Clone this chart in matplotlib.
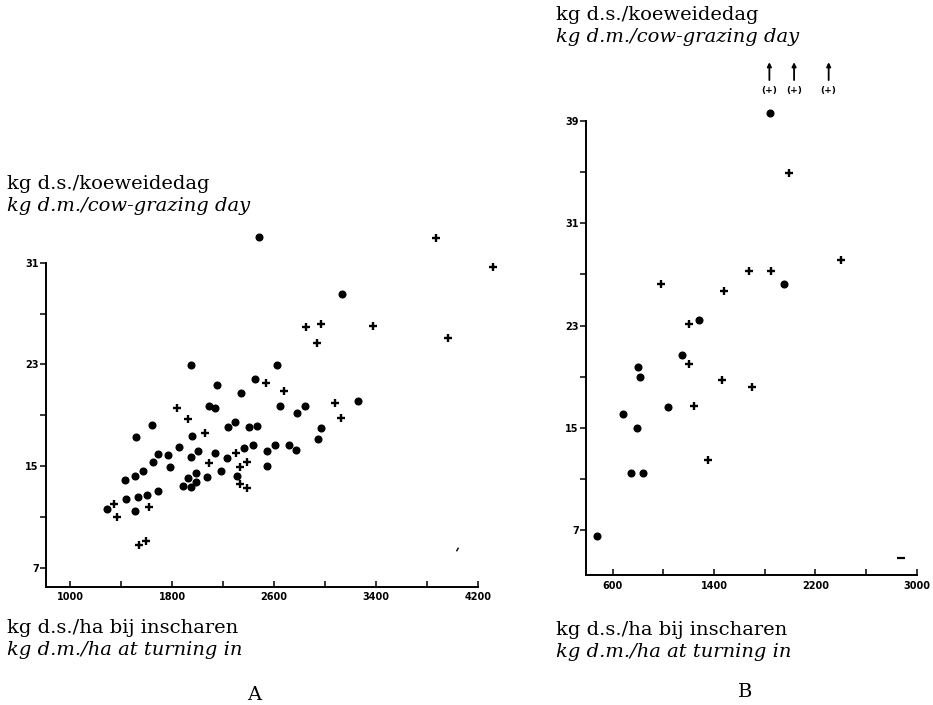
import matplotlib
matplotlib.use("Agg")
import matplotlib.pyplot as plt
from matplotlib.ticker import FixedLocator

# ---------------- data ----------------
# Panel A
a_dot_x = [2481, 3132, 1948, 2620, 2150, 2453, 2338, 2087, 2134, 2646, 2845, 2782, 3260,
           1645, 1515, 1956, 2236, 2293, 2400, 2469, 2968, 2947, 1854, 1692, 1766, 2005,
           2134, 1946, 2233, 2361, 2432, 2547, 2607, 2717, 2769, 1784, 1648, 1570, 1507,
           1434, 1990, 1928, 1888, 1946, 1990, 2077, 2184, 2312, 2547, 1692, 1606, 1533,
           1439, 1507, 1287]
a_dot_y = [33.05, 28.53, 22.97, 22.92, 21.40, 21.82, 20.72, 19.72, 19.54, 19.72, 19.72, 19.20, 20.11,
           18.23, 17.31, 17.33, 18.04, 18.46, 18.09, 18.17, 17.99, 17.15, 16.52, 15.92, 15.87, 16.15,
           16.00, 15.73, 15.63, 16.39, 16.68, 16.21, 16.65, 16.65, 16.23, 14.95, 15.31, 14.63, 14.19,
           13.90, 14.45, 14.05, 13.43, 13.37, 13.71, 14.11, 14.61, 14.19, 14.97, 13.01, 12.74, 12.53,
           12.43, 11.48, 11.64]
a_plus_x = [3866, 4313, 2847, 2965, 2934, 3378, 3966, 2534, 2678, 1836, 1922, 3077, 3122,
            2061, 2090, 2299, 2385, 2330, 2330, 2385, 1345, 1366, 1617, 1541, 1593]
a_plus_y = [32.91, 30.69, 25.91, 26.20, 24.70, 26.02, 25.05, 21.53, 20.93, 19.56, 18.72, 19.98, 18.78,
            17.57, 15.26, 16.02, 15.31, 14.89, 13.58, 13.29, 11.98, 10.96, 11.80, 8.76, 9.12]

# Panel B
b_dot_x = [1842, 1955, 1279, 1150, 797, 816, 1040, 679, 795, 745, 837, 479]
b_dot_y = [39.65, 26.23, 23.44, 20.68, 19.78, 19.00, 16.62, 16.09, 15.01, 11.44, 11.44, 6.57]
b_plus_x = [1995, 2406, 1679, 1848, 979, 1476, 1200, 1205, 1461, 1703, 1242, 1355]
b_plus_y = [34.94, 28.12, 27.25, 27.25, 26.26, 25.67, 23.13, 19.97, 18.76, 18.17, 16.71, 12.50]
b_offscale_x = [1837, 2032, 2305]     # points above the scale, marked "(+)"

# ticks
a_xticks = [1000, 1800, 2600, 3400, 4200]
a_xminor = [1400, 2200, 3000, 3800]
b_xticks = [600, 1400, 2200, 3000]
b_xminor = [1000, 1800, 2600]
yticks = [7, 15, 23, 31]
a_yminor = [11, 19, 27]
b_yticks = [7, 15, 23, 31, 39]
b_yminor = [11, 19, 27, 35]

ylab_nl = "kg d.s./koeweidedag"
ylab_en = "kg d.m./cow-grazing day"
xlab_nl = "kg d.s./ha bij inscharen"
xlab_en = "kg d.m./ha at turning in"

# ---------------- figure ----------------
W, H = 933, 705
fig = plt.figure(figsize=(W / 100, H / 100), dpi=100)
fig.patch.set_facecolor("white")

def px(x0, y0, x1, y1):
    return [x0 / W, 1 - y1 / H, (x1 - x0) / W, (y1 - y0) / H]

axA = fig.add_axes(px(45.7, 262.7, 478.3, 586.7))
axB = fig.add_axes(px(585.7, 121.0, 916.7, 575.0))

tickfont = dict(family="DejaVu Sans", weight="bold", size=7)

def style(ax, xt, xm, yt, ym, xlim, ylim):
    ax.set_xlim(*xlim)
    ax.set_ylim(*ylim)
    for s in ("top", "right"):
        ax.spines[s].set_visible(False)
    for s in ("left", "bottom"):
        ax.spines[s].set_linewidth(1.4)
    ax.xaxis.set_major_locator(FixedLocator(xt))
    ax.xaxis.set_minor_locator(FixedLocator(xm))
    ax.yaxis.set_major_locator(FixedLocator(yt))
    ax.yaxis.set_minor_locator(FixedLocator(ym))
    ax.tick_params(axis="x", which="both", direction="in", length=4, width=1.1, pad=4)
    ax.tick_params(axis="y", which="both", direction="out", length=4, width=1.1, pad=1)
    ax.set_xticklabels([str(v) for v in xt], **tickfont)
    ax.set_yticklabels([str(v) for v in yt], **tickfont)
    ax.patch.set_alpha(0)

style(axA, a_xticks, a_xminor, yticks, a_yminor, (810, 4200), (5.5, 31))
style(axB, b_xticks, b_xminor, b_yticks, b_yminor, (387, 3000), (3.5, 39))

dot_kw = dict(linestyle="none", marker="o", color="black", markersize=4.8, clip_on=False)
plus_kw = dict(linestyle="none", marker="+", color="black", markersize=6.2, markeredgewidth=1.7, clip_on=False)

axA.plot(a_dot_x, a_dot_y, **dot_kw)
axA.plot(a_plus_x, a_plus_y, **plus_kw)
axB.plot(b_dot_x, b_dot_y, **dot_kw)
axB.plot(b_plus_x, b_plus_y, **plus_kw)

# small stray marks present in the original print
axA.plot([4036], [8.5], linestyle="none", marker=(2, 0, -30), markersize=3, color="black", mew=1, clip_on=False)
axB.plot([2874], [4.85], linestyle="none", marker="_", markersize=6, color="black", mew=1.6, clip_on=False)

# off-scale indicators in B
for xv in b_offscale_x:
    axB.annotate("", xy=(xv, 43.6), xytext=(xv, 42.2),
                 arrowprops=dict(arrowstyle="-|>", lw=1.3, color="black", mutation_scale=6,
                                 shrinkA=0, shrinkB=0),
                 annotation_clip=False)
    axB.text(xv, 41.4, "(+)", ha="center", va="center", fontsize=6.5,
             family="DejaVu Sans", weight="bold", clip_on=False)

# ---------------- labels ----------------
serif = "DejaVu Serif"
fs = 14

def label_pair(x, y1, t1, t2):
    fig.text(x / W, 1 - y1 / H, t1, ha="left", va="center", family=serif, fontsize=fs)
    fig.text(x / W, 1 - (y1 + 22) / H, t2, ha="left", va="center", family=serif,
             style="italic", fontsize=fs)

label_pair(7, 184, ylab_nl, ylab_en)
label_pair(7, 628, xlab_nl, xlab_en)
label_pair(556, 15, ylab_nl, ylab_en)
label_pair(556, 630, xlab_nl, xlab_en)

fig.text(254 / W, 1 - 695 / H, "A", ha="center", va="center", family=serif, fontsize=fs)
fig.text(745 / W, 1 - 692 / H, "B", ha="center", va="center", family=serif, fontsize=fs)

fig.savefig("out.png", dpi=100, facecolor="white")
